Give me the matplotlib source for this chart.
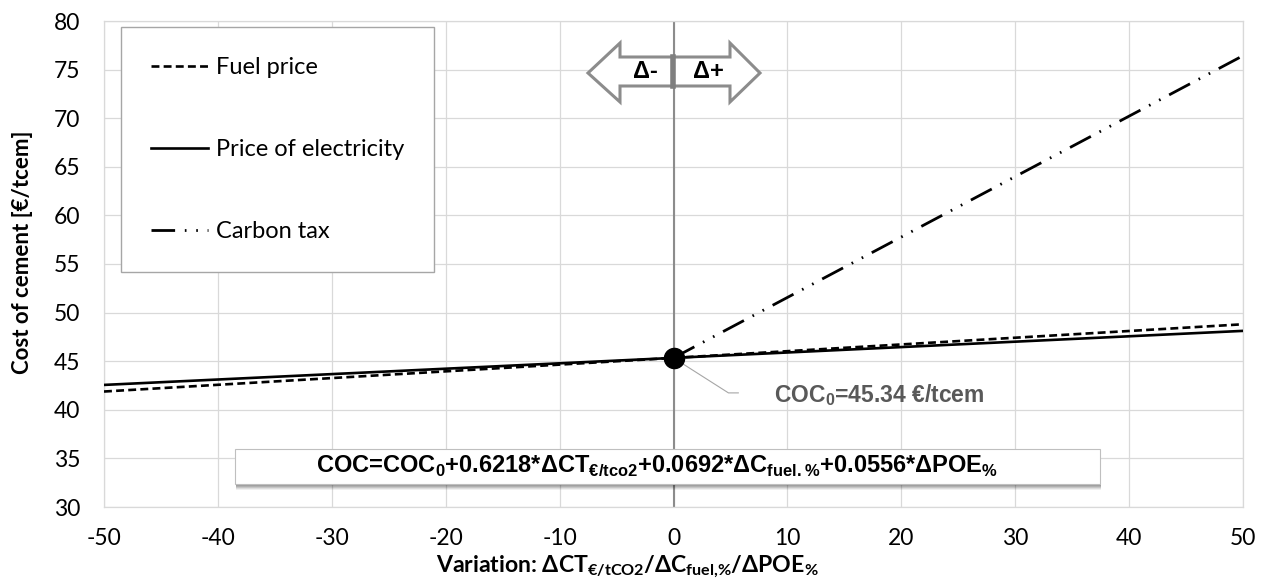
import matplotlib
matplotlib.use('Agg')
import matplotlib.pyplot as plt
from matplotlib.patches import Polygon, Rectangle
from matplotlib.transforms import Affine2D

W, H = 1264, 584

# values
coc0 = 45.34
variation = [-50, 0, 50]
fuel_price = [41.88, 45.34, 48.80]
electricity = [42.56, 45.34, 48.12]
carbon_x = [0, 50]
carbon_tax = [45.34, 76.43]
x_ticks = [-50, -40, -30, -20, -10, 0, 10, 20, 30, 40, 50]
y_ticks = [30, 35, 40, 45, 50, 55, 60, 65, 70, 75, 80]

plt.rcParams['font.family'] = 'Lato'
plt.rcParams['axes.unicode_minus'] = False
plt.rcParams['mathtext.fontset'] = 'custom'
plt.rcParams['mathtext.bf'] = 'Lato:bold'
plt.rcParams['mathtext.sf'] = 'Liberation Sans:bold'

fig = plt.figure(figsize=(W / 100, H / 100), dpi=100)
ax = fig.add_axes([104 / W, 77 / H, 1139 / W, 486 / H])

# image pixel coords -> display
pix = Affine2D().scale(1, -1).translate(0, H)

l_fuel, = ax.plot(variation, fuel_price, color='black', lw=1.9,
                  linestyle=(0, (3, 1.6)), zorder=4)
l_elec, = ax.plot(variation, electricity, color='black', lw=1.9, zorder=4)
l_carb, = ax.plot(carbon_x, carbon_tax, color='black', lw=2.0,
                  linestyle=(0, (8.5, 3.5, 0.6, 3.5, 0.6, 3.5)), zorder=4)
ax.plot([0], [coc0], 'o', ms=14.5, color='black', zorder=6)

ax.axvline(0, color='#8c8c8c', lw=1.5, zorder=2)

ax.set_xlim(-50, 50)
ax.set_ylim(30, 80)
ax.set_xticks(x_ticks)
ax.set_yticks(y_ticks)
ax.grid(True, color='#d9d9d9', lw=0.9, zorder=0)
ax.set_axisbelow(True)
for s in ax.spines.values():
    s.set_color('#d9d9d9')
    s.set_linewidth(0.9)
ax.tick_params(axis='both', length=0, labelsize=16.5)
ax.tick_params(axis='x', pad=15)
ax.tick_params(axis='y', pad=17)

fig.text(23 / W, 1 - 252 / H, 'Cost of cement [€/tcem]', rotation=90,
         ha='center', va='center', fontsize=16, fontweight='bold')
fig.text(627 / W, 1 - 567 / H,
         r'Variation: ΔCT$_{\mathbf{€/tCO2}}$/ΔC$_{\mathbf{fuel{,}\%}}$/ΔPOE$_{\mathbf{\%}}$',
         ha='center', va='center', fontsize=16.6, fontweight='bold')

leg = ax.legend(handles=[l_fuel, l_elec, l_carb],
                labels=['Fuel price', 'Price of electricity', 'Carbon tax'],
                loc='upper left', bbox_to_anchor=(17 / 1139, 480 / 486),
                borderaxespad=0, fontsize=17, handlelength=2.4,
                handletextpad=0.34, labelspacing=2.58, borderpad=1.27,
                fancybox=False, edgecolor='#a6a6a6', framealpha=1)
leg.get_frame().set_linewidth(1.0)
leg.set_zorder(7)

# delta arrows
left_arrow = [(588, 73), (620, 43), (620, 57), (673, 57), (673, 86), (620, 86), (620, 102)]
right_arrow = [(760, 73), (730, 43), (730, 57), (673, 57), (673, 86), (730, 86), (730, 102)]
for pts in (left_arrow, right_arrow):
    ax.add_patch(Polygon(pts, closed=True, facecolor='white', edgecolor='#8c8c8c',
                         lw=2.2, transform=pix, clip_on=False, zorder=5))
ax.plot([673, 673], [57, 86], color='#7f7f7f', lw=4, transform=pix, zorder=5)
ax.text(645, 72, 'Δ-', transform=pix, ha='center', va='center', fontsize=17,
        fontweight='bold', family='Liberation Sans', zorder=6)
ax.text(708, 72, 'Δ+', transform=pix, ha='center', va='center', fontsize=17,
        fontweight='bold', family='Liberation Sans', zorder=6)

# COC0 callout
ax.annotate('', xy=(0, coc0), xytext=(65, -35), textcoords='offset pixels',
            arrowprops=dict(arrowstyle='-', color='#a6a6a6', lw=0.8, shrinkA=0, shrinkB=0,
                            connectionstyle='angle,angleA=0,angleB=-32.5'), zorder=5)
ax.annotate(r'COC$_{\mathsf{0}}$=45.34 €/tcem', xy=(0, coc0), xytext=(100, -37),
            textcoords='offset pixels', ha='left', va='center', fontsize=16.5,
            fontweight='bold', family='Liberation Sans', color='#595959', zorder=6)

# equation box with soft shadow
for i, a in enumerate([0.10, 0.10, 0.10, 0.08, 0.06]):
    ax.add_patch(Rectangle((235 + 1, 449 + 2 + i), 865, 35, facecolor='black', edgecolor='none',
                           alpha=a, transform=pix, clip_on=False, zorder=7))
ax.add_patch(Rectangle((235, 449), 865, 35, facecolor='white', edgecolor='#bfbfbf',
                       lw=0.8, transform=pix, clip_on=False, zorder=8))
ax.text(657, 466,
        r'COC=COC$_{\mathsf{0}}$+0.6218*ΔCT$_{\mathsf{€/tco2}}$+0.0692*ΔC$_{\mathsf{fuel.\%}}$+0.0556*ΔPOE$_{\mathsf{\%}}$',
        transform=pix, ha='center', va='center', fontsize=17, fontweight='bold',
        family='Liberation Sans', zorder=9)

fig.savefig('out.png', dpi=100)
